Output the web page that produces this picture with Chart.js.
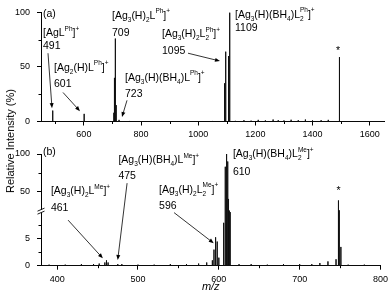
<!DOCTYPE html>
<html>
<head>
<meta charset="utf-8">
<script src="https://cdn.jsdelivr.net/npm/chart.js@4.4.1/dist/chart.umd.min.js"></script>
<style>
  body { margin: 0; background: #fff; }
  #wrap { position: relative; width: 392px; height: 301px; font-family: "Liberation Sans", Arial, sans-serif; }
  #wrap canvas { position: absolute; left: 0; }
  #ytitle { position: absolute; left: 10px; top: 141px; transform: translate(-50%, -50%) rotate(-90deg);
            font-size: 11px; white-space: nowrap; color: #000; z-index: 2; }
</style>
</head>
<body>
<div id="wrap">
  <div id="ytitle">Relative Intensity (%)</div>
  <canvas id="chartA" width="392" height="140" style="top:0"></canvas>
  <canvas id="chartB" width="392" height="161" style="top:140px"></canvas>
</div>
<script>
// ---- panel (a): L^Ph spectrum ----
const aRange = [450, 1650];
const aXTicks = [600, 800, 1000, 1200, 1400, 1600];
const aXMinor = [500, 700, 900, 1100, 1300, 1500];
const aYTicks = [0, 50, 100];
const aYMinor = [25, 75];

const aPeakMz  = [491, 601, 705, 707, 709, 711, 713, 723, 1091, 1093, 1095, 1097, 1105, 1107, 1109, 1111, 1493, 1495];
const aPeakInt = [10, 7, 8, 40, 76, 53, 15, 1.5, 20, 35, 64, 40, 25, 60, 100, 70, 59, 42];
const aNoiseMz  = [520, 560, 650, 680, 760, 800, 850, 900, 950, 1000, 1050, 1130, 1160, 1185, 1210, 1235, 1262, 1280, 1300, 1325, 1350, 1375, 1400, 1430, 1455, 1520, 1560, 1600];
const aNoiseInt = [0.4, 0.3, 0.5, 0.4, 0.5, 0.3, 0.4, 0.3, 0.4, 0.3, 0.5, 0.6, 1.2, 0.8, 1.5, 1.0, 1.8, 1.2, 1.0, 1.6, 1.2, 1.8, 1.0, 1.2, 1.5, 0.3, 0.3, 0.3];

// ---- panel (b): L^Me spectrum ----
const bRange = [380, 800];
const bXTicks = [400, 500, 600, 700, 800];
const bXMinor = [450, 550, 650, 750];
const bYTicks = [0, 5, 50, 100];
const bYMinor = [2.5, 7.5, 75];

const bPeakMz  = [459, 461, 463, 475, 592, 594, 596, 598, 600, 606, 608, 609, 610, 611, 612, 613, 614, 735, 745, 748, 749, 751];
const bPeakInt = [0.6, 1.0, 0.6, 0.3, 1.0, 3.0, 5.3, 4.5, 1.5, 8, 83, 60, 100, 90, 40, 22, 10, 0.8, 1.2, 38, 24, 3.5];
const bNoiseMz  = [390, 410, 430, 445, 452, 480, 500, 520, 540, 560, 575, 585, 625, 640, 660, 680, 700, 715, 725, 760, 780];
const bNoiseInt = [0.2, 0.2, 0.3, 0.3, 0.4, 0.3, 0.2, 0.2, 0.3, 0.3, 0.4, 0.6, 0.3, 0.3, 0.2, 0.3, 0.3, 0.3, 0.5, 0.2, 0.2];

// broken intensity axis of panel (b): 0-10 below the break, 25-100 above
const bLow = [0, 10];
const bHigh = [25, 100];
const bLowShare = 0.48;
const bGapShare = 0.017;

// peak labels: [text, m/z, intensity] (text anchor, left/middle)
const aTexts = [
  ['(a)', 457, 98.6],
  ['[AgL^{Ph}]^+', 457, 80.6], ['491', 457, 68.9],
  ['[Ag_2(H)L^{Ph}]^+', 495.5, 49.1], ['601', 495.5, 34.7],
  ['[Ag_3(H)_2L^{Ph}]^+', 698.4, 96.8], ['709', 698.4, 80.6],
  ['[Ag_3(H)(BH_4)L^{Ph}]^+', 743.9, 40.1], ['723', 743.9, 24.8],
  ['[Ag_3(H)_2L_2^{Ph}]^+', 873.3, 79.7], ['1095', 873.3, 64.4],
  ['[Ag_3(H)(BH_4)L_2^{Ph}]^+', 1128.7, 97.7], ['1109', 1128.7, 86.0],
  ['*', 1482, 64.4]
];
const aArrows = [
  [474.5, 62.6, 488.5, 12.2],
  [527, 26.6, 586.4, 9.5],
  [750.9, 19.4, 733.4, 4.1],
  [964.3, 62.6, 1076.2, 55.4]
];
const bTexts = [
  ['(b)', 382.5, 102],
  ['[Ag_3(H)(BH_4)L^{Me}]^+', 475.8, 91.4], ['475', 475.8, 70.0],
  ['[Ag_3(H)_2L^{Me}]^+', 392.3, 49.9], ['461', 392.3, 27.7],
  ['[Ag_3(H)_2L_2^{Me}]^+', 526.1, 52.2], ['596', 526.1, 30.8],
  ['[Ag_3(H)(BH_4)L_2^{Me}]^+', 617.4, 99.4], ['610', 617.4, 75.2],
  ['*', 745.6, 49.9]
];
const bArrows = [
  [486.5, 61.1, 474.9, 1.07],
  [413.5, 8.5, 456.5, 1.38],
  [544.6, 9.9, 593.7, 4.19]
];

Chart.defaults.font.family = '"Liberation Sans", Arial, sans-serif';
Chart.defaults.color = '#000';

// linear scale with a break: values are mapped piecewise onto the axis height
class BrokenScale extends Chart.LinearScale {
  getPixelForValue(value) {
    const h = this.bottom - this.top;
    let f;
    if (value <= bLow[1]) {
      f = (value - bLow[0]) / (bLow[1] - bLow[0]) * bLowShare;
    } else if (value <= bHigh[0]) {
      f = bLowShare + (value - bLow[1]) / (bHigh[0] - bLow[1]) * bGapShare;
    } else {
      f = bLowShare + bGapShare + (value - bHigh[0]) / (bHigh[1] - bHigh[0]) * (1 - bLowShare - bGapShare);
    }
    return this.bottom - f * h;
  }
  getValueForPixel(pixel) {
    const f = (this.bottom - pixel) / (this.bottom - this.top);
    if (f <= bLowShare) return bLow[0] + f / bLowShare * (bLow[1] - bLow[0]);
    if (f <= bLowShare + bGapShare) return bLow[1] + (f - bLowShare) / bGapShare * (bHigh[0] - bLow[1]);
    return bHigh[0] + (f - bLowShare - bGapShare) / (1 - bLowShare - bGapShare) * (bHigh[1] - bHigh[0]);
  }
}
BrokenScale.id = 'broken';
BrokenScale.defaults = Chart.LinearScale.defaults;
Chart.register(BrokenScale);

// turn peak lists into a stick spectrum along the baseline
function stickSeries(range, mzs, ints) {
  const pts = mzs.map((m, i) => ({ m: m, v: ints[i] })).sort((p, q) => p.m - q.m);
  const data = [{ x: range[0], y: 0 }];
  pts.forEach(p => {
    data.push({ x: p.m, y: 0 }, { x: p.m, y: p.v }, { x: p.m, y: 0 });
  });
  data.push({ x: range[1], y: 0 });
  return data;
}

// text with _sub and ^sup parts, e.g. [Ag_3(H)_2L_2^{Ph}]^+
function parseRich(str) {
  const parts = [];
  let buf = '', i = 0;
  while (i < str.length) {
    const c = str[i];
    if (c === '_' || c === '^') {
      if (buf) { parts.push({ t: buf, k: 'n' }); buf = ''; }
      let t;
      if (str[i + 1] === '{') {
        const j = str.indexOf('}', i);
        t = str.slice(i + 2, j);
        i = j + 1;
      } else {
        t = str[i + 1];
        i += 2;
      }
      parts.push({ t: t, k: c === '_' ? 'sub' : 'sup' });
    } else {
      buf += c;
      i++;
    }
  }
  if (buf) parts.push({ t: buf, k: 'n' });
  return parts;
}

function drawRich(ctx, str, x, y) {
  const big = 10.5, small = 6.5;
  const fam = '"Liberation Sans", Arial, sans-serif';
  let cx = x, prev = null, scriptStart = x, scriptEnd = x;
  ctx.textBaseline = 'middle';
  ctx.textAlign = 'left';
  parseRich(str).forEach(p => {
    if (p.k === 'n') {
      ctx.font = big + 'px ' + fam;
      ctx.fillText(p.t, cx, y);
      cx += ctx.measureText(p.t).width;
    } else {
      ctx.font = small + 'px ' + fam;
      const stacked = prev && prev.k !== 'n' && prev.k !== p.k;
      const sx = stacked ? scriptStart : cx;
      const dy = p.k === 'sub' ? big * 0.38 : -big * 0.42;
      ctx.fillText(p.t, sx, y + dy);
      const end = sx + ctx.measureText(p.t).width;
      if (stacked) {
        scriptEnd = Math.max(scriptEnd, end);
      } else {
        scriptStart = sx;
        scriptEnd = end;
      }
      cx = scriptEnd;
    }
    prev = p;
  });
}

function drawArrow(ctx, x0, y0, x1, y1) {
  const ang = Math.atan2(y1 - y0, x1 - x0);
  const len = 5, half = 2;
  ctx.lineWidth = 0.8;
  ctx.beginPath();
  ctx.moveTo(x0, y0);
  ctx.lineTo(x1 - Math.cos(ang) * len * 0.8, y1 - Math.sin(ang) * len * 0.8);
  ctx.stroke();
  ctx.beginPath();
  ctx.moveTo(x1, y1);
  ctx.lineTo(x1 - Math.cos(ang) * len - Math.sin(ang) * half, y1 - Math.sin(ang) * len + Math.cos(ang) * half);
  ctx.lineTo(x1 - Math.cos(ang) * len + Math.sin(ang) * half, y1 - Math.sin(ang) * len - Math.cos(ang) * half);
  ctx.closePath();
  ctx.fill();
}

// labels, arrows, minor ticks and the axis break
function notes(cfg) {
  return {
    id: 'notes',
    afterDatasetsDraw(chart) {
      const ctx = chart.ctx, xs = chart.scales.x, ys = chart.scales.y;
      ctx.save();
      ctx.strokeStyle = '#000';
      ctx.fillStyle = '#000';
      ctx.lineWidth = 1;
      cfg.minorX.forEach(v => {
        const px = Math.round(xs.getPixelForValue(v)) + 0.5;
        ctx.beginPath(); ctx.moveTo(px, xs.top); ctx.lineTo(px, xs.top + 2.5); ctx.stroke();
      });
      cfg.minorY.forEach(v => {
        const py = Math.round(ys.getPixelForValue(v)) + 0.5;
        ctx.beginPath(); ctx.moveTo(ys.right - 2.5, py); ctx.lineTo(ys.right, py); ctx.stroke();
      });
      if (cfg.brk) {
        const py = ys.getPixelForValue((bLow[1] + bHigh[0]) / 2);
        const ax = ys.right;
        ctx.fillStyle = '#fff';
        ctx.fillRect(ax - 1, py - 1.5, 2.5, 3);
        ctx.fillStyle = '#000';
        ctx.lineWidth = 0.9;
        [-1.5, 1.5].forEach(o => {
          ctx.beginPath();
          ctx.moveTo(ax - 3.5, py + o + 1.5);
          ctx.lineTo(ax + 3.5, py + o - 1.5);
          ctx.stroke();
        });
      }
      cfg.arrows.forEach(a => {
        drawArrow(ctx, xs.getPixelForValue(a[0]), ys.getPixelForValue(a[1]),
                  xs.getPixelForValue(a[2]), ys.getPixelForValue(a[3]));
      });
      cfg.texts.forEach(t => drawRich(ctx, t[0], xs.getPixelForValue(t[1]), ys.getPixelForValue(t[2])));
      ctx.restore();
    }
  };
}

function makeChart(id, p) {
  return new Chart(document.getElementById(id), {
    type: 'line',
    data: {
      datasets: [{
        data: stickSeries(p.range, p.mz, p.ints),
        borderColor: '#111',
        borderWidth: 1,
        borderJoinStyle: 'bevel',
        pointRadius: 0,
        tension: 0
      }]
    },
    options: {
      responsive: false,
      animation: false,
      events: [],
      layout: { padding: { top: p.padTop, right: p.padRight, left: 0, bottom: 0 } },
      plugins: { legend: { display: false }, tooltip: { enabled: false } },
      scales: {
        x: {
          type: 'linear',
          min: p.range[0],
          max: p.range[1],
          afterBuildTicks: s => { s.ticks = p.xTicks.map(v => ({ value: v })); },
          afterFit: s => { s.height = p.xHeight; },
          grid: { drawOnChartArea: false, tickLength: 4, color: '#000' },
          border: { color: '#000', width: 1 },
          ticks: { padding: 4, font: { size: 9 }, maxRotation: 0, autoSkip: false, callback: v => v },
          title: p.xTitle
        },
        y: {
          type: p.yType,
          min: 0,
          max: 100,
          afterBuildTicks: s => { s.ticks = p.yTicks.map(v => ({ value: v })); },
          afterFit: s => { s.width = 41; },
          grid: { drawOnChartArea: false, tickLength: 4, color: '#000' },
          border: { color: '#000', width: 1 },
          ticks: { padding: 7, font: { size: 9 }, autoSkip: false, callback: v => v }
        }
      }
    },
    plugins: [notes(p.notes)]
  });
}

makeChart('chartA', {
  range: aRange, mz: aPeakMz.concat(aNoiseMz), ints: aPeakInt.concat(aNoiseInt),
  xTicks: aXTicks, yTicks: aYTicks, yType: 'linear',
  padTop: 10, padRight: 8, xHeight: 18.5,
  xTitle: { display: false },
  notes: { minorX: aXMinor, minorY: aYMinor, texts: aTexts, arrows: aArrows, brk: false }
});

makeChart('chartB', {
  range: bRange, mz: bPeakMz.concat(bNoiseMz), ints: bPeakInt.concat(bNoiseInt),
  xTicks: bXTicks, yTicks: bYTicks, yType: 'broken',
  padTop: 14, padRight: 9, xHeight: 35.3,
  xTitle: { display: true, text: 'm/z', font: { size: 11, style: 'italic' }, padding: { top: 0, bottom: 7 } },
  notes: { minorX: bXMinor, minorY: bYMinor, texts: bTexts, arrows: bArrows, brk: true }
});
</script>
</body>
</html>
